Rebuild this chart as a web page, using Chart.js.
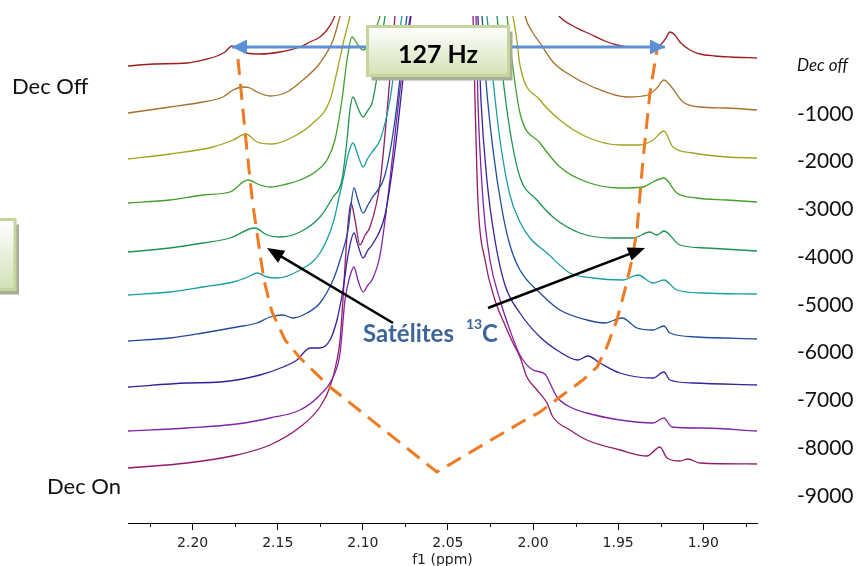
<!DOCTYPE html>
<html>
<head>
<meta charset="utf-8">
<script src="https://cdn.jsdelivr.net/npm/chart.js@4.4.0/dist/chart.umd.min.js"></script>
<style>
  html, body { margin: 0; padding: 0; background: #fff; }
  #wrap { width: 858px; height: 566px; }
</style>
</head>
<body>
<div id="wrap"><canvas id="myChart"></canvas></div>
<script>
// f1 (ppm) range and decoupler offsets
var ppmLeft = 2.238;
var ppmRight = 1.8684;
var offsetValues = [0, -1000, -2000, -3000, -4000, -5000, -6000, -7000, -8000, -9000];
var minorTicks = [2.225, 2.175, 2.125, 2.075, 2.025, 1.975, 1.925, 1.875];

// stacked spectra, [ppm, stacked intensity]; top of the central peak is off scale
var specOff = [[2.2380,457],[2.2233,459],[2.2033,460],[2.1916,464],[2.1857,467],[2.1810,471],[2.1769,477],[2.1722,473],[2.1681,470],[2.1604,469],[2.1487,471],[2.1369,476],[2.1311,481],[2.1252,486],[2.1211,493],[2.1175,503],[2.1152,513],[2.055,900],[1.9871,513],[1.9842,506],[1.9754,496],[1.9666,489],[1.9578,482],[1.9507,478],[1.9430,476],[1.9313,476],[1.9254,478],[1.9219,485],[1.9196,491],[1.9166,488],[1.9137,481],[1.9078,473],[1.9019,469],[1.8931,467],[1.8843,466],[1.8684,465]];
var spec1000 = [[2.2380,410],[2.2133,416],[2.1939,421],[2.1822,426],[2.1763,433],[2.1704,436],[2.1663,435],[2.1622,431],[2.1546,427],[2.1446,431],[2.1352,443],[2.1252,460],[2.1175,483],[2.1134,507],[2.1117,518],[2.055,900],[2.0059,518],[2.0047,507],[2.0000,490],[1.9959,480],[1.9883,461],[1.9783,448],[1.9648,436],[1.9448,426],[1.9325,428],[1.9272,435],[1.9231,443],[1.9196,438],[1.9119,421],[1.9019,416],[1.8861,415],[1.8684,413]];
var spec2000 = [[2.2380,364],[2.2133,369],[2.1881,376],[2.1763,383],[2.1687,389],[2.1622,381],[2.1534,379],[2.1411,386],[2.1293,400],[2.1193,423],[2.1146,456],[2.1111,483],[2.1076,507],[2.1064,518],[2.055,900],[2.0130,518],[2.0118,507],[2.0095,483],[2.0077,458],[1.9959,423],[1.9842,403],[1.9684,386],[1.9489,378],[1.9372,378],[1.9295,383],[1.9231,392],[1.9178,376],[1.9060,370],[1.8861,366],[1.8684,365]];
var spec3000 = [[2.2380,320],[2.2133,323],[2.1939,328],[2.1781,331],[2.1675,343],[2.1604,338],[2.1546,336],[2.1446,339],[2.1369,343],[2.1281,351],[2.1211,363],[2.1164,383],[2.1123,423],[2.1093,463],[2.1064,486],[2.1029,478],[2.0999,473],[2.0958,480],[2.0929,493],[2.0899,507],[2.0888,518],[2.055,900],[2.0165,518],[2.0153,507],[2.0124,463],[2.0077,410],[1.9959,380],[1.9842,356],[1.9684,341],[1.9489,335],[1.9354,336],[1.9295,341],[1.9231,345],[1.9155,330],[1.9037,325],[1.8861,323],[1.8684,321]];
var spec4000 = [[2.2380,271],[2.2133,275],[2.1939,280],[2.1781,285],[2.1634,295],[2.1563,288],[2.1487,286],[2.1369,291],[2.1252,306],[2.1175,326],[2.1123,343],[2.1093,383],[2.1076,413],[2.1058,426],[2.1029,415],[2.0999,406],[2.0970,413],[2.0946,420],[2.0911,453],[2.0882,493],[2.0864,513],[2.055,900],[2.0224,518],[2.0212,507],[2.0182,453],[2.0136,393],[2.0077,346],[1.9977,323],[1.9883,306],[1.9725,290],[1.9531,285],[1.9413,285],[1.9313,291],[1.9272,288],[1.9231,292],[1.9137,278],[1.8978,275],[1.8684,272]];
var spec5000 = [[2.2380,228],[2.2133,231],[2.1939,236],[2.1763,241],[2.1675,246],[2.1622,250],[2.1563,246],[2.1505,245],[2.1369,253],[2.1252,270],[2.1175,300],[2.1134,330],[2.1111,348],[2.1087,368],[2.1058,380],[2.1029,368],[2.0999,356],[2.0970,365],[2.0946,371],[2.0899,383],[2.0841,423],[2.0800,473],[2.0770,507],[2.0758,518],[2.055,900],[2.0282,518],[2.0271,507],[2.0241,453],[2.0194,383],[2.0136,328],[2.0077,301],[2.0018,285],[1.9918,270],[1.9783,250],[1.9648,245],[1.9472,243],[1.9383,248],[1.9295,240],[1.9231,243],[1.9155,233],[1.9001,230],[1.8684,229]];
var spec6000 = [[2.2380,182],[2.2133,185],[2.1939,190],[2.1740,196],[2.1622,200],[2.1546,206],[2.1469,208],[2.1411,205],[2.1328,210],[2.1252,220],[2.1175,243],[2.1134,263],[2.1087,293],[2.1052,335],[2.1029,323],[2.0999,310],[2.0970,318],[2.0946,325],[2.0870,348],[2.0811,403],[2.0770,463],[2.0741,507],[2.0729,518],[2.055,900],[2.0312,518],[2.0300,507],[2.0277,443],[2.0235,373],[2.0182,313],[2.0136,278],[2.0077,253],[1.9959,230],[1.9842,213],[1.9684,203],[1.9578,200],[1.9477,205],[1.9389,195],[1.9295,193],[1.9231,197],[1.9196,190],[1.9037,186],[1.8684,184]];
var spec7000 = [[2.2380,136],[2.2033,140],[2.1839,141],[2.1604,148],[2.1469,156],[2.1387,163],[2.1311,175],[2.1252,175],[2.1193,183],[2.1152,203],[2.1117,233],[2.1087,268],[2.1052,290],[2.1029,278],[2.0999,265],[2.0970,273],[2.0946,278],[2.0870,308],[2.0811,373],[2.0758,453],[2.0717,507],[2.0706,518],[2.055,900],[2.0335,518],[2.0324,507],[2.0306,423],[2.0271,343],[2.0224,283],[2.0165,238],[2.0077,210],[1.9959,186],[1.9842,171],[1.9736,163],[1.9678,167],[1.9607,160],[1.9489,150],[1.9295,145],[1.9231,151],[1.9196,143],[1.9060,140],[1.8684,138]];
var spec8000 = [[2.2380,92],[2.2033,95],[2.1740,99],[2.1546,105],[2.1369,113],[2.1252,128],[2.1175,146],[2.1134,170],[2.1105,223],[2.1082,243],[2.1052,256],[2.1029,243],[2.0999,231],[2.0970,238],[2.0946,243],[2.0899,268],[2.0841,343],[2.0782,433],[2.0735,493],[2.0717,513],[2.055,900],[2.0341,518],[2.0335,507],[2.0324,423],[2.0294,323],[2.0253,263],[2.0194,223],[2.0136,193],[2.0077,168],[2.0000,153],[1.9930,149],[1.9901,140],[1.9859,126],[1.9783,116],[1.9684,110],[1.9489,103],[1.9295,100],[1.9231,105],[1.9184,96],[1.9001,95],[1.8684,92]];
var spec9000 = [[2.2380,55],[2.2033,60],[2.1740,68],[2.1546,78],[2.1369,96],[2.1252,116],[2.1193,136],[2.1152,163],[2.1134,183],[2.1117,223],[2.1099,273],[2.1082,308],[2.1070,320],[2.1046,303],[2.1017,278],[2.0987,288],[2.0958,296],[2.0899,340],[2.0852,423],[2.0823,483],[2.0811,507],[2.0805,518],[2.055,900],[2.0365,518],[2.0353,507],[2.0341,423],[2.0324,323],[2.0282,263],[2.0224,223],[2.0165,198],[2.0118,180],[2.0077,166],[2.0036,146],[1.9977,133],[1.9918,120],[1.9883,106],[1.9783,93],[1.9684,83],[1.9489,73],[1.9331,67],[1.9254,76],[1.9213,65],[1.9137,62],[1.9090,64],[1.9019,60],[1.8684,59]];

var traceColors = ['#9e1c1c', '#a86f2a', '#a0a420', '#43a02c', '#1f9450', '#1a9ea4', '#1f4c9c', '#36209c', '#8422a6', '#921c68'];

// 13C satellite guide (dashed) and 127 Hz span
var satelliteGuide = [[2.1734,464],[2.1716,433],[2.1693,393],[2.1669,353],[2.1646,318],[2.1616,283],[2.1581,243],[2.1534,211],[2.1457,183],[2.1369,165],[2.1193,136],[2.0565,51],[2.0077,100],[1.9959,111],[1.9842,126],[1.9707,143],[1.9624,156],[1.9566,176],[1.9507,203],[1.9460,233],[1.9419,263],[1.9389,293],[1.9354,363],[1.9313,430],[1.9272,473]];
var couplingSpan = [[2.1769,476],[1.9225,476]];

var traces = [specOff, spec1000, spec2000, spec3000, spec4000, spec5000, spec6000, spec7000, spec8000, spec9000];
var toXY = function (p) { return { x: p[0], y: p[1] }; };

var datasets = traces.map(function (t, i) {
    return {
        data: t.map(toXY),
        borderColor: traceColors[i],
        borderWidth: 1.3,
        pointRadius: 0,
        cubicInterpolationMode: 'monotone',
        yAxisID: 'y',
        order: 2
    };
});
datasets.push({
    data: satelliteGuide.map(toXY),
    borderColor: '#ee7a22',
    borderWidth: 3,
    borderDash: [16, 9],
    pointRadius: 0,
    tension: 0,
    yAxisID: 'y',
    order: 1
});
datasets.push({
    data: couplingSpan.map(toXY),
    borderColor: '#5b8fd6',
    borderWidth: 3,
    pointRadius: 0,
    yAxisID: 'y',
    order: 0
});
var spanIndex = datasets.length - 1;

function arrowHead(ctx, x, y, ang, len, half) {
    ctx.beginPath();
    ctx.moveTo(x, y);
    ctx.lineTo(x - len * Math.cos(ang) + half * Math.sin(ang), y - len * Math.sin(ang) - half * Math.cos(ang));
    ctx.lineTo(x - len * Math.cos(ang) - half * Math.sin(ang), y - len * Math.sin(ang) + half * Math.cos(ang));
    ctx.closePath();
    ctx.fill();
}

function blackArrow(ctx, x1, y1, x2, y2) {
    var ang = Math.atan2(y2 - y1, x2 - x1);
    ctx.strokeStyle = '#000';
    ctx.fillStyle = '#000';
    ctx.lineWidth = 2.5;
    ctx.beginPath();
    ctx.moveTo(x1, y1);
    ctx.lineTo(x2 - 10 * Math.cos(ang), y2 - 10 * Math.sin(ang));
    ctx.stroke();
    arrowHead(ctx, x2, y2, ang, 17, 7);
}

function greenBox(ctx, x, y, w, h) {
    ctx.fillStyle = '#a7ae95';
    ctx.fillRect(x + 4, y + 5, w, h);
    var g = ctx.createLinearGradient(0, y, 0, y + h);
    g.addColorStop(0, '#ffffff');
    g.addColorStop(1, '#d3e1b5');
    ctx.fillStyle = g;
    ctx.fillRect(x, y, w, h);
    ctx.strokeStyle = '#c4d69d';
    ctx.lineWidth = 3;
    ctx.strokeRect(x, y, w, h);
}

var annotations = {
    id: 'annotations',
    afterDatasetsDraw: function (chart) {
        var ctx = chart.ctx;
        var pts = chart.getDatasetMeta(spanIndex).data;
        ctx.save();
        ctx.fillStyle = '#5b8fd6';
        arrowHead(ctx, pts[0].x, pts[0].y, Math.PI, 15, 7.5);
        arrowHead(ctx, pts[1].x, pts[1].y, 0, 15, 7.5);
        ctx.restore();
    },
    afterDraw: function (chart) {
        var ctx = chart.ctx;
        var xs = chart.scales.x;
        var axisY = chart.chartArea.bottom;
        ctx.save();
        // minor ticks
        ctx.strokeStyle = '#000';
        ctx.lineWidth = 1;
        minorTicks.forEach(function (v) {
            var px = Math.round(xs.getPixelForValue(v)) + 0.5;
            ctx.beginPath();
            ctx.moveTo(px, axisY);
            ctx.lineTo(px, axisY + 4);
            ctx.stroke();
        });

        // 127 Hz label box
        greenBox(ctx, 367.5, 26.5, 141, 49);
        greenBox(ctx, -20, 219.5, 35, 70);
        ctx.fillStyle = '#000';
        ctx.font = 'bold 25px Lato';
        ctx.textAlign = 'center';
        ctx.textBaseline = 'middle';
        ctx.fillText('127 Hz', 438, 55);

        // Dec Off / Dec On
        ctx.font = '22px Lato';
        ctx.textAlign = 'left';
        ctx.textBaseline = 'alphabetic';
        ctx.fillStyle = '#111';
        ctx.fillText('Dec Off', 12, 94);
        ctx.fillText('Dec On', 47, 494);

        // satellites
        blackArrow(ctx, 393, 323, 267, 248);
        blackArrow(ctx, 488, 308, 645, 248);
        ctx.fillStyle = '#3d6598';
        ctx.font = 'bold 24px Lato';
        ctx.fillText('Satélites', 363, 342);
        ctx.font = 'bold 14px Lato';
        ctx.fillText('13', 466, 329);
        ctx.font = 'bold 24px Lato';
        ctx.fillText('C', 482, 342);
        ctx.restore();
    }
};

new Chart(document.getElementById('myChart'), {
    type: 'line',
    data: { datasets: datasets },
    options: {
        responsive: true,
        maintainAspectRatio: false,
        animation: false,
        layout: { padding: { left: 128, top: 16, right: 0, bottom: 0 } },
        plugins: {
            legend: { display: false },
            tooltip: { enabled: false }
        },
        scales: {
            x: {
                type: 'linear',
                reverse: true,
                min: ppmRight,
                max: ppmLeft,
                position: 'bottom',
                afterFit: function (scale) { scale.height = 43; },
                grid: { drawOnChartArea: false, color: '#000', tickLength: 7 },
                border: { color: '#000', width: 1 },
                ticks: {
                    stepSize: 0.05,
                    includeBounds: false,
                    padding: 5,
                    color: '#222',
                    maxRotation: 0,
                    font: { family: 'DejaVu Sans', size: 14 },
                    callback: function (v) { return Number(v).toFixed(2); }
                },
                title: {
                    display: true,
                    text: 'f1 (ppm)',
                    color: '#222',
                    padding: { top: 0, bottom: -3 },
                    font: { family: 'DejaVu Sans', size: 14 }
                }
            },
            y: {
                type: 'linear',
                min: 0,
                max: 507,
                display: false
            },
            y2: {
                type: 'linear',
                position: 'right',
                min: -9565,
                max: 1046,
                afterFit: function (scale) { scale.width = 101; },
                afterBuildTicks: function (scale) {
                    scale.ticks = offsetValues.map(function (v) { return { value: v }; });
                },
                grid: { display: true, drawOnChartArea: false, drawTicks: true, tickLength: 40, color: 'rgba(0,0,0,0)' },
                border: { display: false },
                ticks: {
                    padding: 0,
                    color: '#111',
                    font: function (c) {
                        return c.tick && c.tick.value === 0
                            ? { family: 'Lato', size: 17, style: 'italic' }
                            : { family: 'Lato', size: 21 };
                    },
                    callback: function (v) { return v === 0 ? 'Dec off' : String(v); }
                }
            }
        }
    },
    plugins: [annotations]
});
</script>
</body>
</html>
